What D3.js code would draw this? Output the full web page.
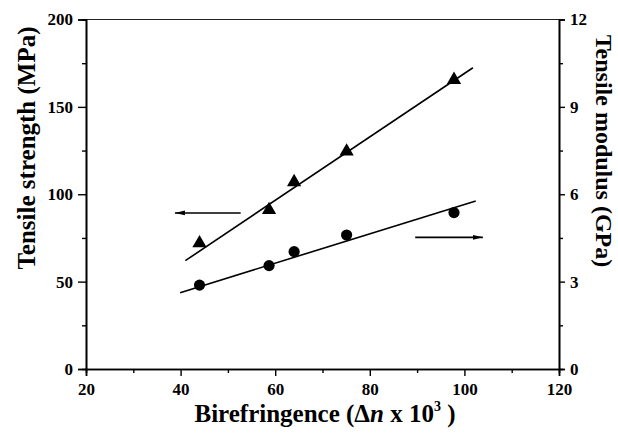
<!DOCTYPE html>
<html>
<head>
<meta charset="utf-8">
<script src="https://cdn.jsdelivr.net/npm/d3@7"></script>
<style>
  html, body { margin: 0; padding: 0; background: #fff; }
  svg { display: block; }
  text { font-family: "Liberation Serif", "Times New Roman", serif; font-weight: bold; fill: #000; }
</style>
</head>
<body>
<svg id="chart" width="618" height="435"></svg>
<script>
// ---- data ----
const birefringence = [44, 58.7, 64, 75.1, 97.8];
const tensileStrength = [72, 91, 107, 124.5, 165.5];   // MPa (left axis)
const tensileModulus = [2.88, 3.55, 4.03, 4.6, 5.37];  // GPa (right axis)
const strengthFitX = [41, 101.8];
const strengthFitY = [62, 172.4];
const modulusFitX = [39.9, 102.4];
const modulusFitY = [2.62, 5.77];
const leftArrowX = [52.7, 38.8];
const leftArrowY = 89.3;
const rightArrowX = [89.6, 103.9];
const rightArrowY = 4.52;
const xTicks = [20, 40, 60, 80, 100, 120];
const xMinor = [30, 50, 70, 90, 110];
const yLeftTicks = [0, 50, 100, 150, 200];
const yLeftMinor = [25, 75, 125, 175];
const yRightTicks = [0, 3, 6, 9, 12];
const yRightMinor = [1.5, 4.5, 7.5, 10.5];

// ---- layout ----
const svg = d3.select("#chart");
const L = 86, R = 559, T = 19.5, B = 369;
const x = d3.scaleLinear().domain([20, 120]).range([L, R]);
const yL = d3.scaleLinear().domain([0, 200]).range([B, T]);
const yR = d3.scaleLinear().domain([0, 12]).range([B, T]);

// top frame
svg.append("line").attr("x1", L).attr("x2", R).attr("y1", T).attr("y2", T)
  .attr("stroke", "#222").attr("stroke-width", 1.2);

function styleAxis(g) {
  g.select(".domain").attr("stroke", "#000").attr("stroke-width", 1.6);
  g.selectAll(".tick line").attr("stroke", "#000").attr("stroke-width", 1.4);
  g.selectAll(".tick text").style("font-size", "17px").attr("fill", "#000");
}

// minor ticks
svg.append("g").attr("transform", `translate(0,${B})`)
  .call(d3.axisBottom(x).tickValues(xMinor).tickSize(4).tickFormat(""))
  .call(styleAxis);
svg.append("g").attr("transform", `translate(${L},0)`)
  .call(d3.axisLeft(yL).tickValues(yLeftMinor).tickSize(4).tickFormat(""))
  .call(styleAxis);
svg.append("g").attr("transform", `translate(${R},0)`)
  .call(d3.axisRight(yR).tickValues(yRightMinor).tickSize(4).tickFormat(""))
  .call(styleAxis);

// major axes
svg.append("g").attr("transform", `translate(0,${B})`)
  .call(d3.axisBottom(x).tickValues(xTicks).tickSize(7).tickPadding(7).tickFormat(d3.format("d")))
  .call(styleAxis);
svg.append("g").attr("transform", `translate(${L},0)`)
  .call(d3.axisLeft(yL).tickValues(yLeftTicks).tickSize(8).tickPadding(5).tickFormat(d3.format("d")))
  .call(styleAxis);
svg.append("g").attr("transform", `translate(${R},0)`)
  .call(d3.axisRight(yR).tickValues(yRightTicks).tickSize(6).tickPadding(5).tickFormat(d3.format("d")))
  .call(styleAxis);

// fit lines
const line = d3.line();
svg.append("path")
  .attr("d", line(strengthFitX.map((v, i) => [x(v), yL(strengthFitY[i])])))
  .attr("stroke", "#000").attr("stroke-width", 1.6).attr("fill", "none");
svg.append("path")
  .attr("d", line(modulusFitX.map((v, i) => [x(v), yR(modulusFitY[i])])))
  .attr("stroke", "#000").attr("stroke-width", 1.6).attr("fill", "none");

// markers
svg.append("g").selectAll("path").data(birefringence).join("path")
  .attr("transform", (d, i) => `translate(${x(d)},${yL(tensileStrength[i])})`)
  .attr("d", d3.symbol(d3.symbolTriangle, 88)())
  .attr("fill", "#000");
svg.append("g").selectAll("circle").data(birefringence).join("circle")
  .attr("cx", d => x(d)).attr("cy", (d, i) => yR(tensileModulus[i]))
  .attr("r", 5.6).attr("fill", "#000");

// arrows
svg.append("defs").append("marker")
  .attr("id", "ah").attr("viewBox", "0 0 10 6").attr("refX", 10).attr("refY", 3)
  .attr("markerWidth", 10).attr("markerHeight", 6).attr("markerUnits", "userSpaceOnUse")
  .attr("orient", "auto")
  .append("path").attr("d", "M0,0.6 L10,3 L0,5.4 Z").attr("fill", "#000");
svg.append("line")
  .attr("x1", x(leftArrowX[0])).attr("x2", x(leftArrowX[1]))
  .attr("y1", yL(leftArrowY)).attr("y2", yL(leftArrowY))
  .attr("stroke", "#000").attr("stroke-width", 1.6).attr("marker-end", "url(#ah)");
svg.append("line")
  .attr("x1", x(rightArrowX[0])).attr("x2", x(rightArrowX[1]))
  .attr("y1", yR(rightArrowY)).attr("y2", yR(rightArrowY))
  .attr("stroke", "#000").attr("stroke-width", 1.6).attr("marker-end", "url(#ah)");

// titles
svg.append("text")
  .attr("transform", `translate(35,148) rotate(-90)`)
  .attr("text-anchor", "middle").style("font-size", "25px")
  .text("Tensile strength (MPa)");
svg.append("text")
  .attr("transform", `translate(596,151) rotate(90)`)
  .attr("text-anchor", "middle").style("font-size", "24px")
  .text("Tensile modulus (GPa)");
const xt = svg.append("text")
  .attr("x", 325).attr("y", 422)
  .attr("text-anchor", "middle").style("font-size", "25px");
xt.append("tspan").text("Birefringence (Δ");
xt.append("tspan").style("font-style", "italic").text("n");
xt.append("tspan").text(" x 10");
xt.append("tspan").attr("dy", -11).style("font-size", "14px").text("3");
xt.append("tspan").attr("dy", 11).text(" )");
</script>
</body>
</html>
